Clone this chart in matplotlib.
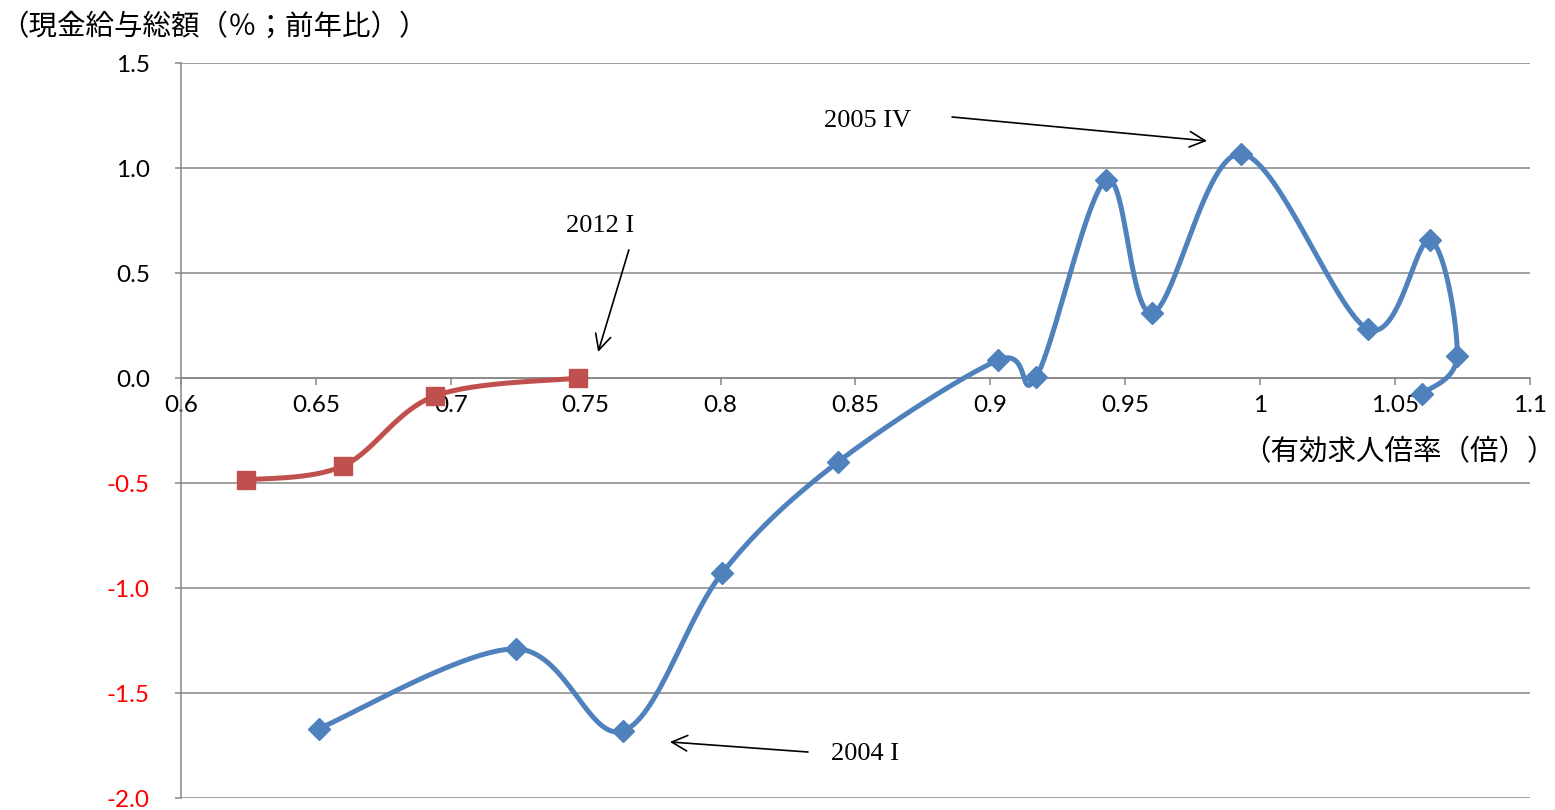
import numpy as np
import matplotlib
matplotlib.use('Agg')
import matplotlib.pyplot as plt

plt.rcParams['font.family'] = ['Lato', 'Noto Sans CJK JP', 'DejaVu Sans']

# データ（有効求人倍率, 現金給与総額前年比）
blue_x = [0.651, 0.724, 0.764, 0.8005, 0.8435, 0.903, 0.917, 0.943, 0.960, 0.993, 1.040, 1.063, 1.073, 1.060]
blue_y = [-1.67, -1.29, -1.68, -0.93, -0.40, 0.086, 0.005, 0.943, 0.31, 1.068, 0.233, 0.655, 0.105, -0.076]

red_x = [0.624, 0.660, 0.694, 0.747]
red_y = [-0.486, -0.419, -0.086, 0.0]

x_ticks = [0.6, 0.65, 0.7, 0.75, 0.8, 0.85, 0.9, 0.95, 1.0, 1.05, 1.1]
x_tick_labels = ['0.6', '0.65', '0.7', '0.75', '0.8', '0.85', '0.9', '0.95', '1', '1.05', '1.1']
y_ticks = [1.5, 1.0, 0.5, 0.0, -0.5, -1.0, -1.5, -2.0]

ylabel = '（現金給与総額（％；前年比））'
xlabel = '（有効求人倍率（倍））'


def smooth(xs, ys, n=40):
    # Excel風のスムージング（Catmull-Rom）
    p = np.column_stack([xs, ys])
    p = np.vstack([p[0], p, p[-1]])
    out = []
    for i in range(1, len(p) - 2):
        p0, p1, p2, p3 = p[i - 1], p[i], p[i + 1], p[i + 2]
        c1 = p1 + (p2 - p0) / 6
        c2 = p2 - (p3 - p1) / 6
        t = np.linspace(0, 1, n)[:, None]
        seg = ((1 - t) ** 3) * p1 + 3 * ((1 - t) ** 2) * t * c1 + 3 * (1 - t) * t ** 2 * c2 + t ** 3 * p2
        out.append(seg)
    out = np.vstack(out)
    return out[:, 0], out[:, 1]


fig = plt.figure(figsize=(15.55, 8.10), dpi=100)
ax = fig.add_axes([0.1164, 0.0148, 0.8675, 0.9074])

blue = '#4F81BD'
red = '#C0504D'
grid = '#868686'

sx, sy = smooth(blue_x, blue_y)
ax.plot(sx, sy, color=blue, lw=3.6, solid_capstyle='round', zorder=3)
ax.plot(blue_x, blue_y, ls='none', marker='D', ms=11.5, color=blue, zorder=4)

sx, sy = smooth(red_x, red_y)
ax.plot(sx, sy, color=red, lw=3.6, solid_capstyle='round', zorder=3)
ax.plot(red_x, red_y, ls='none', marker='s', ms=13.5, color=red, zorder=4)

ax.set_xlim(0.6, 1.1)
ax.set_ylim(-2.0, 1.5)

ax.set_yticks(y_ticks)
ax.set_yticklabels(['%.1f' % v for v in y_ticks])
for lab, v in zip(ax.get_yticklabels(), y_ticks):
    if v < 0:
        lab.set_color('red')
ax.set_xticks(x_ticks)
ax.set_xticklabels(x_tick_labels)

ax.grid(axis='y', color=grid, lw=1.1)
ax.set_axisbelow(True)
for s in ['top', 'right']:
    ax.spines[s].set_visible(False)
ax.spines['bottom'].set_position(('data', 0))
ax.spines['bottom'].set_color(grid)
ax.spines['bottom'].set_linewidth(1.1)
ax.spines['left'].set_color(grid)
ax.spines['left'].set_linewidth(1.1)
ax.tick_params(axis='y', length=4.5, width=1.1, color=grid, pad=18, labelsize=17.5)
ax.tick_params(axis='x', length=5, width=1.1, color=grid, pad=7, labelsize=17.5)

# 注記
tfont = dict(family='Liberation Serif', fontsize=19, ha='center', va='center')
arrow = dict(arrowstyle='->', color='black', lw=1.2, mutation_scale=28, shrinkA=0, shrinkB=0)
ax.text(0.8543, 1.225, '2005 IV', **tfont)
ax.annotate('', xy=(0.9803, 1.129), xytext=(0.8858, 1.243), arrowprops=arrow)
ax.text(0.7553, 0.725, '2012 I', **tfont)
ax.annotate('', xy=(0.7546, 0.124), xytext=(0.7660, 0.610), arrowprops=arrow)
ax.text(0.8535, -1.79, '2004 I', **tfont)
ax.annotate('', xy=(0.7812, -1.733), xytext=(0.8324, -1.781), arrowprops=arrow)

fig.text(0.0, 1 - 27 / 810, ylabel, fontsize=20.5, family=['Noto Sans CJK JP', 'DejaVu Sans'],
         ha='left', va='center')
fig.text(1556 / 1555, 1 - 452 / 810, xlabel, fontsize=20.5, family=['Noto Sans CJK JP', 'DejaVu Sans'],
         ha='right', va='center')

fig.savefig('out.png', dpi=100)
